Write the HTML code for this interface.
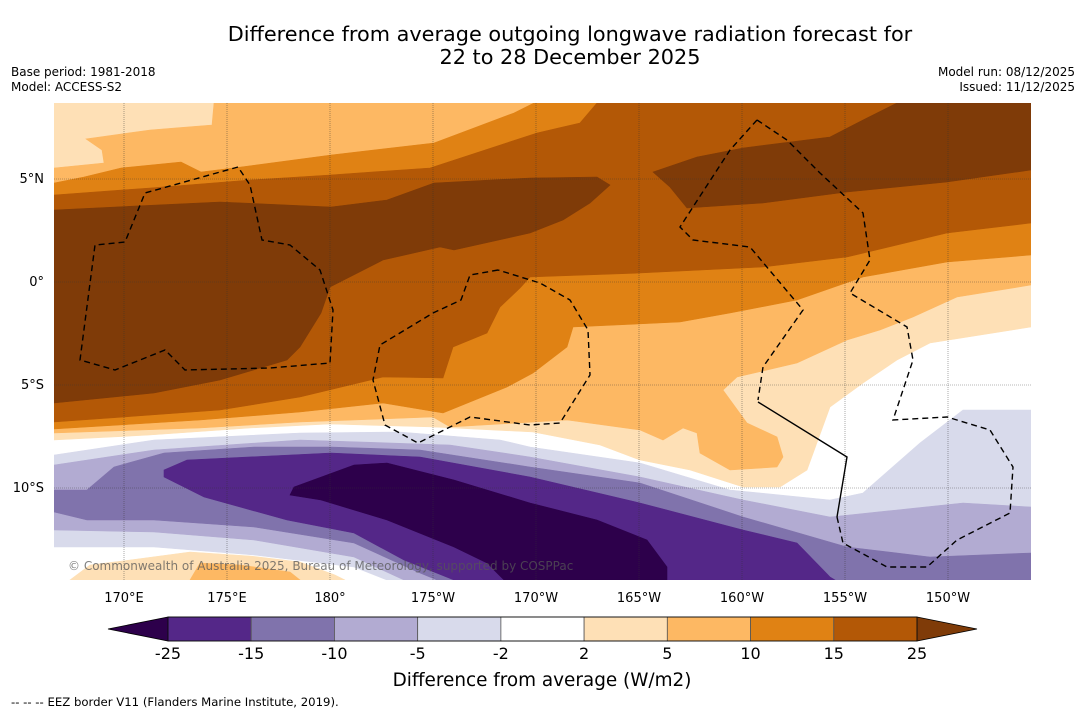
<!DOCTYPE html>
<html><head><meta charset="utf-8"><style>
html,body{margin:0;padding:0;background:#fff;}
body{width:1085px;height:713px;overflow:hidden;font-family:"DejaVu Sans","Liberation Sans",sans-serif;}
svg{display:block;}
</style></head><body>
<svg id="fig" width="1085" height="713" viewBox="0 0 1085 713" xmlns="http://www.w3.org/2000/svg">
<text x="570" y="41" font-size="20.8" text-anchor="middle">Difference from average outgoing longwave radiation forecast for</text>
<text x="570" y="64" font-size="20.8" text-anchor="middle">22 to 28 December 2025</text>
<text x="11" y="76" font-size="12">Base period: 1981-2018</text>
<text x="11" y="91" font-size="12">Model: ACCESS-S2</text>
<text x="1075" y="76" font-size="12" text-anchor="end">Model run: 08/12/2025</text>
<text x="1075" y="91" font-size="12" text-anchor="end">Issued: 11/12/2025</text>
<defs><clipPath id="mapclip"><rect x="54" y="103" width="977" height="477"/></clipPath></defs>
<g id="map" clip-path="url(#mapclip)">
<rect x="54" y="103" width="977" height="477" fill="#ffffff"/>
<g id="bands"></g>
<g id="grid"></g>
<g id="eez"></g>
</g>
<text x="68" y="570" font-size="12" fill="#555" fill-opacity="0.75">© Commonwealth of Australia 2025, Bureau of Meteorology, supported by COSPPac</text>
<g id="axislabels"></g>
<g id="colorbar"></g>
<text x="542" y="686" font-size="18.4" text-anchor="middle">Difference from average (W/m2)</text>
<text x="11" y="706" font-size="11.7">--  --  -- EEZ border V11 (Flanders Marine Institute, 2019).</text>
</svg>
<script>
// axis data
const lonTicks = [170, 175, 180, 185, 190, 195, 200, 205, 210];
const lonLabels = ["170°E","175°E","180°","175°W","170°W","165°W","160°W","155°W","150°W"];
const latTicks = [5, 0, -5, -10];
const latLabels = ["5°N","0°","5°S","10°S"];
// colorbar data
const cbLevels = [-25, -15, -10, -5, -2, 2, 5, 10, 15, 25];
const cbColors = ["#542788","#8073ac","#b2abd2","#d8daeb","#ffffff","#fee0b6","#fdb863","#e08214","#b35806"];
const cbUnder = "#2d004b";
const cbOver = "#7f3b08";

const NS = "http://www.w3.org/2000/svg";
function lonX(lon){ return 124 + (lon - 170) * 20.6; }
function latY(lat){ return 282 - lat * 20.6; }
function mk(tag, attrs, parent){ const e=document.createElementNS(NS,tag); for(const k in attrs) e.setAttribute(k,attrs[k]); parent.appendChild(e); return e; }

const bandShapes = [
 ["#fee0b6","band-ge-2",[[54,103],[1031,103],[1031,327],[930,343],[897,360],[863,383],[830,407],[807,470],[780,487],[743,487],[690,470],[640,460],[600,445],[533,432],[433,427],[330,424],[250,428],[150,435],[54,440]]],
 ["#fee0b6","band-ge-2-south",[[70,580],[90,565],[130,560],[190,552],[250,556],[300,562],[335,575],[345,580]]],
 ["#fdb863","band-ge-5-south",[[190,580],[200,563],[240,565],[290,572],[300,580]]],
 ["#fdb863","band-ge-5",[[214,103],[1031,103],[1031,285],[957,297],[913,317],[880,330],[847,340],[797,363],[737,377],[723,390],[747,423],[777,437],[783,457],[777,467],[730,470],[700,453],[697,433],[683,428],[663,440],[640,430],[567,420],[450,427],[433,417],[300,422],[200,428],[54,433],[54,168],[104,163],[102,150],[86,139],[150,130],[212,125]]],
 ["#e08214","band-ge-10",[[534,103],[1031,103],[1031,255],[947,262],[863,277],[797,300],[730,313],[680,322],[573,327],[567,347],[533,373],[507,387],[443,413],[383,403],[300,412],[200,420],[54,429],[54,183],[84,177],[121,168],[181,162],[201,172],[241,167],[331,155],[434,143],[514,113]]],
 ["#b35806","band-ge-15",[[597,103],[1031,103],[1031,223],[947,233],[847,257],[763,267],[640,273],[530,277],[520,288],[500,307],[487,333],[453,347],[443,378],[383,377],[300,397],[220,410],[54,422],[54,195],[150,188],[250,180],[330,175],[430,168],[537,133],[580,123]]],
 ["#7f3b08","band-ge-25-west",[[54,210],[220,202],[331,207],[387,200],[434,183],[530,178],[597,177],[610,185],[590,203],[563,220],[530,233],[454,250],[440,247],[383,260],[330,287],[321,313],[300,347],[287,360],[220,380],[154,393],[54,403]]],
 ["#7f3b08","band-ge-25-east",[[653,172],[697,157],[743,148],[830,137],[863,120],[897,103],[1031,103],[1031,170],[947,182],[847,192],[763,203],[687,208],[670,187]]],
 ["#d8daeb","band-le-2",[[54,455],[154,440],[300,433],[400,432],[500,440],[530,447],[640,463],[730,490],[830,500],[863,493],[920,443],[963,410],[1031,410],[1031,580],[387,580],[354,567],[254,555],[154,547],[54,547]]],
 ["#b2abd2","band-le-5",[[54,465],[154,450],[300,440],[450,445],[530,457],[640,477],[743,500],[830,517],[897,510],[963,503],[1031,507],[1031,580],[404,580],[354,557],[254,540],[154,532],[54,530]]],
 ["#8073ac","band-le-10",[[54,490],[87,490],[114,467],[164,453],[254,447],[331,447],[420,450],[530,467],[640,483],[743,517],[847,547],[930,557],[1031,553],[1031,580],[437,580],[420,573],[354,543],[254,527],[154,520],[87,520],[54,512]]],
 ["#542788","band-le-15",[[164,470],[187,460],[331,453],[420,457],[530,477],[640,503],[743,530],[797,543],[830,577],[835,580],[454,580],[404,560],[354,533],[287,520],[204,497],[164,477]]],
 ["#2d004b","band-le-25",[[294,487],[354,465],[387,463],[454,480],[530,503],[597,520],[647,540],[667,567],[667,580],[504,580],[487,563],[454,547],[387,520],[321,500],[290,495]]]
];
const bands=document.getElementById('bands');
for(const b of bandShapes){
  const p=mk('polygon',{points:b[2].map(q=>q.join(',')).join(' '),fill:b[0],stroke:b[0],'stroke-width':0.6},bands);
  
  
}

const grid=document.getElementById('grid');
lonTicks.forEach((lon,i)=>{
  const x=lonX(lon);
  const l=mk('line',{x1:x,y1:103,x2:x,y2:580,stroke:'#333','stroke-width':0.6,'stroke-dasharray':'1,1','stroke-opacity':0.7},grid);
  
  
});
latTicks.forEach((lat,i)=>{
  const y=latY(lat);
  const l=mk('line',{x1:54,y1:y,x2:1031,y2:y,stroke:'#333','stroke-width':0.6,'stroke-dasharray':'1,1','stroke-opacity':0.7},grid);
  
  
});

const eezLines=[
 {d:[[238,167],[145,193],[125,242],[95,245],[80,360],[115,370],[165,350],[185,370],[270,368],[330,363],[333,310],[320,270],[290,245],[262,240],[250,185],[238,167]],dash:'6,4'},
 {d:[[498,270],[470,275],[461,300],[433,313],[380,345],[373,380],[385,425],[418,443],[470,417],[530,425],[560,423],[590,375],[588,330],[570,300],[540,283],[498,270]],dash:'6,4'},
 {d:[[757,120],[730,150],[680,227],[693,240],[750,247],[803,310],[763,367],[758,400]],dash:'6,4'},
 {d:[[758,402],[847,457],[837,517]],dash:''},
 {d:[[837,517],[843,543],[887,567],[927,567],[957,540],[1010,513],[1013,467],[990,430],[947,417],[893,420],[913,360],[907,327],[850,293],[870,260],[863,213],[820,173],[787,140],[757,120]],dash:'6,4'}
];
const eez=document.getElementById('eez');
for(const e of eezLines){
  const p=mk('polyline',{points:e.d.map(q=>q.join(',')).join(' '),fill:'none',stroke:'#000','stroke-width':1.4,'stroke-dasharray':e.dash},eez);
  
  
}

const al=document.getElementById('axislabels');
lonTicks.forEach((lon,i)=>{
  const t=mk('text',{x:lonX(lon),y:602,'font-size':13,'text-anchor':'middle'},al);
  t.textContent=lonLabels[i];
  
  
});
latTicks.forEach((lat,i)=>{
  const t=mk('text',{x:44,y:latY(lat)+4,'font-size':13,'text-anchor':'end'},al);
  t.textContent=latLabels[i];
  
  
});

const cb=document.getElementById('colorbar');
const cbX0=168, cbX1=917, cbY=617, cbH=24, triW=60;
const n=cbColors.length, cw=(cbX1-cbX0)/n;
const under=mk('polygon',{points:`${cbX0},${cbY} ${cbX0-triW},${cbY+cbH/2} ${cbX0},${cbY+cbH}`,fill:cbUnder,stroke:'#000','stroke-width':0.8},cb);


const over=mk('polygon',{points:`${cbX1},${cbY} ${cbX1+triW},${cbY+cbH/2} ${cbX1},${cbY+cbH}`,fill:cbOver,stroke:'#000','stroke-width':0.8},cb);


cbColors.forEach((c,i)=>{
  const r=mk('rect',{x:cbX0+i*cw,y:cbY,width:cw,height:cbH,fill:c,stroke:'#555','stroke-width':0.8},cb);
  
  
});
mk('rect',{x:cbX0,y:cbY,width:cbX1-cbX0,height:cbH,fill:'none',stroke:'#000','stroke-width':0.8},cb);
cbLevels.forEach((v,i)=>{
  const t=mk('text',{x:cbX0+i*cw,y:659,'font-size':16,'text-anchor':'middle'},cb);
  t.textContent=String(v);
  
  
});
</script>
</body></html>
